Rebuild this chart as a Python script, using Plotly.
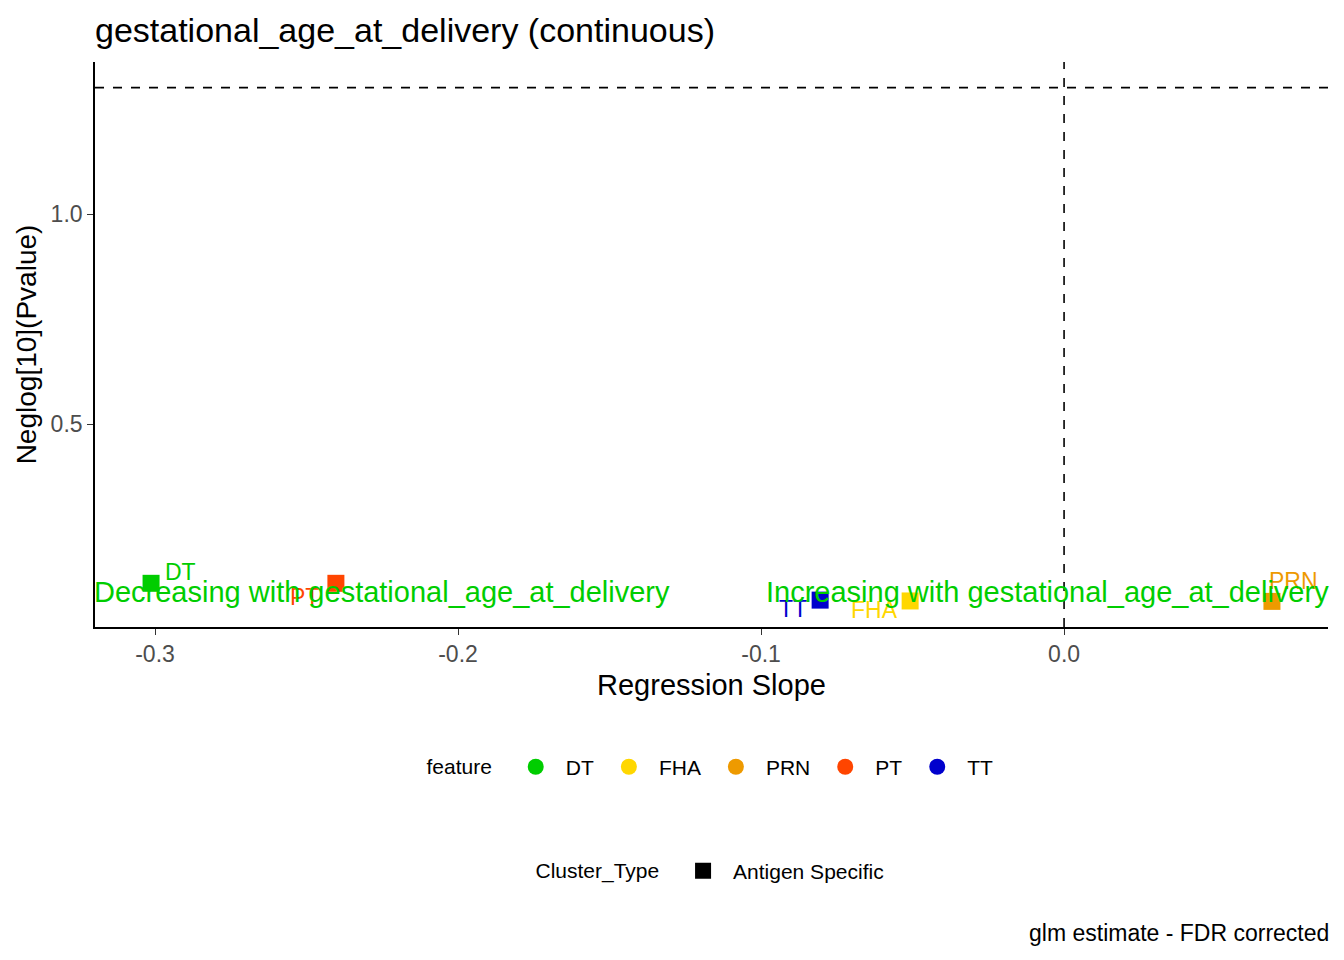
import plotly.graph_objects as go

# data
features = ['DT', 'FHA', 'PRN', 'PT', 'TT']
slope = [-0.3013, -0.0508, 0.0686, -0.2403, -0.0805]
neglog_p = [0.121, 0.079, 0.078, 0.121, 0.081]
feature_colors = ['#00CD00', '#FFD700', '#EE9A00', '#FF4500', '#0000CD']
cluster_types = ['Antigen Specific']

x_ticks = [-0.3, -0.2, -0.1, 0.0]
x_ticktext = ['-0.3', '-0.2', '-0.1', '0.0']
y_ticks = [0.5, 1.0]
y_ticktext = ['0.5', '1.0']

p_cutoff = 1.301  # -log10(0.05)
trait = 'gestational_age_at_delivery'

# pixel offsets of the repelled labels
label_shift = {'DT': (29, 11), 'FHA': (-36, -9), 'PRN': (22, 20), 'PT': (-31, -14), 'TT': (-27, -9)}

FONT = 'Liberation Sans, Arial, sans-serif'

fig = go.Figure()

# the points themselves (squares = Antigen Specific)
for f, x, y, c in zip(features, slope, neglog_p, feature_colors):
    fig.add_trace(go.Scatter(
        x=[x], y=[y], mode='markers',
        marker=dict(symbol='square', size=17, color=c),
        showlegend=False, hoverinfo='skip'
    ))

# legend entries for feature (circles)
for f, c in zip(features, feature_colors):
    fig.add_trace(go.Scatter(
        x=[None], y=[None], mode='markers', name=f,
        marker=dict(symbol='circle', size=18, color=c),
        legend='legend'
    ))

# legend entry for Cluster_Type
for ct in cluster_types:
    fig.add_trace(go.Scatter(
        x=[None], y=[None], mode='markers', name=ct,
        marker=dict(symbol='square', size=18, color='black'),
        legend='legend2'
    ))

# reference lines
fig.add_hline(y=p_cutoff, line=dict(color='black', width=1.6, dash='dash'))
fig.add_vline(x=0, line=dict(color='black', width=1.6, dash='dash'))

annotations = []
for f, x, y, c in zip(features, slope, neglog_p, feature_colors):
    dx, dy = label_shift[f]
    annotations.append(dict(
        x=x, y=y, text=f, showarrow=False,
        font=dict(size=23, color=c, family=FONT),
        xshift=dx, yshift=dy
    ))

# direction labels on top
annotations.append(dict(
    xref='paper', x=0, xanchor='left', y=0.1, yanchor='middle',
    text='Decreasing with ' + trait, showarrow=False, xshift=-3,
    font=dict(size=29, color='#00CD00', family=FONT)
))
annotations.append(dict(
    xref='paper', x=1, xanchor='right', y=0.1, yanchor='middle',
    text='Increasing with ' + trait, showarrow=False, xshift=3,
    font=dict(size=29, color='#00CD00', family=FONT)
))
# caption
annotations.append(dict(
    xref='paper', yref='paper', x=1, xanchor='right', y=-0.5416, yanchor='middle',
    text='glm estimate - FDR corrected', showarrow=False, xshift=3,
    font=dict(size=23, color='black', family=FONT)
))

fig.update_layout(
    width=1344, height=960,
    margin=dict(l=95, r=16, t=62, b=333),
    paper_bgcolor='white', plot_bgcolor='white',
    font=dict(family=FONT, color='black'),
    title=dict(
        text=trait + ' (continuous)',
        x=0, xref='paper', xanchor='left',
        y=1 - 30 / 960, yref='container', yanchor='middle',
        font=dict(size=34, color='black', family=FONT)
    ),
    annotations=annotations,
    legend=dict(
        orientation='h', x=0.5, xanchor='center', y=-0.248, yanchor='middle',
        title=dict(text='feature ', side='left', font=dict(size=21)),
        font=dict(size=21), itemsizing='trace', itemwidth=50
    ),
    legend2=dict(
        orientation='h', x=0.5, xanchor='center', y=-0.432, yanchor='middle',
        title=dict(text='Cluster_Type ', side='left', font=dict(size=21)),
        font=dict(size=21), itemsizing='trace', itemwidth=50
    ),
)

fig.update_xaxes(
    range=[-0.3198, 0.0871],
    tickvals=x_ticks, ticktext=x_ticktext,
    showgrid=False, zeroline=False,
    showline=True, linecolor='black', linewidth=1.6,
    ticks='outside', ticklen=6, tickwidth=1.2, tickcolor='#333333',
    tickfont=dict(size=23, color='#4D4D4D'),
    title=dict(text='Regression Slope', font=dict(size=29, color='black'), standoff=8)
)
fig.update_yaxes(
    range=[0.017, 1.362],
    tickvals=y_ticks, ticktext=y_ticktext,
    showgrid=False, zeroline=False,
    showline=True, linecolor='black', linewidth=1.6,
    ticks='outside', ticklen=6, tickwidth=1.2, tickcolor='#333333',
    tickfont=dict(size=23, color='#4D4D4D'),
    title=dict(text='Neglog[10](Pvalue)', font=dict(size=28, color='black'), standoff=6)
)

fig.write_html('out.html', config={'displayModeBar': False},
               post_script="document.body.style.margin='0px';")
